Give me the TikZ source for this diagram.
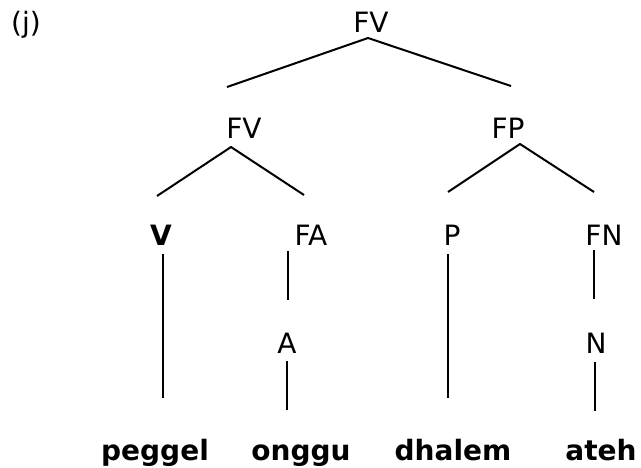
\documentclass[tikz,border=0pt]{standalone}
\usepackage{fontspec}
\setmainfont{DejaVu Sans}

\tikzset{
  cat/.style={anchor=base, inner sep=0pt, font=\fontsize{14}{16}\selectfont},
  word/.style={cat, font=\fontsize{14}{16}\selectfont\bfseries},
  branch/.style={line width=1pt, black}
}

\begin{document}
\begin{tikzpicture}[x=0.5pt, y=-0.5pt]
      \useasboundingbox (0,0) rectangle (641,467);

      % Example label
      \node[cat] (lbl) at (26,32) {(j)};

      % Category labels, top to bottom
      \node[cat] (fvtop) at (371,32) {FV};
      \node[cat] (fvmid) at (244,138) {FV};
      \node[cat] (fp) at (508,138) {FP};
      \node[cat,font=\fontsize{14}{16}\selectfont\bfseries] (v) at (161,245) {V};
      \node[cat] (fa) at (311,245) {FA};
      \node[cat] (p) at (452,245) {P};
      \node[cat] (fn) at (604,245) {FN};
      \node[cat] (a) at (287,353) {A};
      \node[cat] (n) at (596,353) {N};

      % The words
      \node[word] (peggel) at (155,460) {peggel};
      \node[word] (onggu) at (301,460) {onggu};
      \node[word] (dhalem) at (453,460) {dhalem};
      \node[word] (ateh) at (601,460) {ateh};

      % Branch points and line ends
      \coordinate (fvtop-j) at (368,38);
      \coordinate (fvmid-t) at (227,87);
      \coordinate (fp-t) at (511,86);
      \coordinate (fvmid-j) at (231,147);
      \coordinate (v-t) at (157,196);
      \coordinate (fa-t) at (304,195);
      \coordinate (fp-j) at (520,144);
      \coordinate (p-t) at (448,192);
      \coordinate (fn-t) at (594,192);
      \coordinate (v-b) at (163,254);
      \coordinate (peggel-t) at (163,398);
      \coordinate (fa-b) at (288,251);
      \coordinate (a-t) at (288,300);
      \coordinate (a-b) at (287,361);
      \coordinate (onggu-t) at (287,410);
      \coordinate (p-b) at (448,254);
      \coordinate (dhalem-t) at (448,398);
      \coordinate (fn-b) at (594,250);
      \coordinate (n-t) at (594,299);
      \coordinate (n-b) at (595,362);
      \coordinate (ateh-t) at (595,411);

      % Branches
      \draw[branch] (fvmid-t) -- (fvtop-j) -- (fp-t);
      \draw[branch] (v-t) -- (fvmid-j) -- (fa-t);
      \draw[branch] (p-t) -- (fp-j) -- (fn-t);
      \draw[branch] (v-b) -- (peggel-t);
      \draw[branch] (fa-b) -- (a-t);
      \draw[branch] (a-b) -- (onggu-t);
      \draw[branch] (p-b) -- (dhalem-t);
      \draw[branch] (fn-b) -- (n-t);
      \draw[branch] (n-b) -- (ateh-t);

    \end{tikzpicture}
\end{document}
